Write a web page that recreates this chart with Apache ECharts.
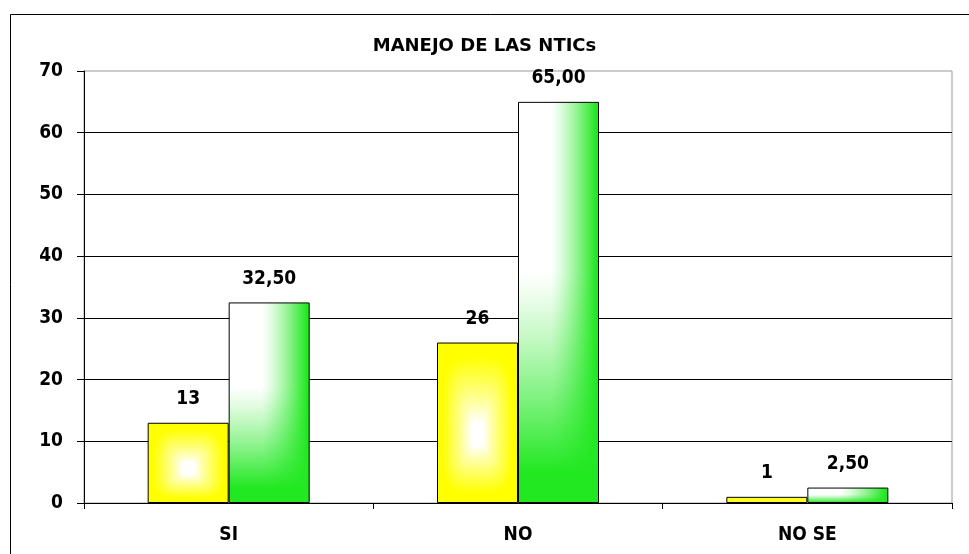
<!DOCTYPE html>
<html><head><meta charset="utf-8">
<script src="https://cdn.jsdelivr.net/npm/echarts@6/dist/echarts.min.js"></script>
<style>html,body{margin:0;padding:0;background:#fff}#c{width:969px;height:554px}</style>
</head><body><div id="c"></div>
<script>
const categories = ['SI', 'NO', 'NO SE'];
const serieA = [13, 26, 1];
const serieB = [32.5, 65.0, 2.5];
const yTicks = { min: 0, max: 70, interval: 10 };

const fmtComma = v => v.toFixed(2).replace('.', ',');
const font = "'DejaVu Sans Condensed', 'DejaVu Sans'";
const barW = 81;

const chart = echarts.init(document.getElementById('c'), null, { renderer: 'canvas' });
const labelBase = { show: true, position: 'top', distance: 14, color: '#000', fontFamily: font, fontWeight: 'bold', fontSize: 19 };
chart.setOption({
  animation: false,
  backgroundColor: '#fff',
  title: { text: 'MANEJO DE LAS NTICs', left: 'center', top: 32,
    textStyle: { fontFamily: 'DejaVu Sans', fontWeight: 'bold', fontSize: 18, color: '#000' } },
  graphic: [{ type: 'rect', shape: { x: 10.5, y: 14.5, width: 980, height: 600 },
    style: { fill: 'none', stroke: '#000', lineWidth: 1 }, z: 100 }],
  grid: { left: 84, right: 17, top: 71, bottom: 51, show: true, borderColor: '#999', borderWidth: 1 },
  xAxis: { type: 'category', data: categories,
    axisLine: { lineStyle: { color: '#000', width: 1 } },
    axisTick: { show: true, length: 6, lineStyle: { color: '#000' } },
    axisLabel: { margin: 23, color: '#000', fontFamily: font, fontWeight: 'bold', fontSize: 19 } },
  yAxis: { type: 'value', min: yTicks.min, max: yTicks.max, interval: yTicks.interval,
    axisLine: { show: true, lineStyle: { color: '#000', width: 1 } },
    axisTick: { show: true, length: 7, lineStyle: { color: '#000' } },
    axisLabel: { margin: 21, color: '#000', fontFamily: font, fontWeight: 'bold', fontSize: 19 },
    splitLine: { show: true, lineStyle: { color: ['#000','#000','#000','#000','#000','#000','#000','rgba(0,0,0,0)'], width: 1 } } },
  series: [
    { type: 'bar', barWidth: barW, barGap: '0%', data: serieA,
      itemStyle: { color: '#ffff00', borderColor: '#000', borderWidth: 1 },
      label: Object.assign({}, labelBase, { formatter: p => String(p.value) }) },
    { type: 'bar', barWidth: barW, data: serieB,
      itemStyle: { color: '#22e822', borderColor: '#000', borderWidth: 1 },
      label: Object.assign({}, labelBase, { formatter: p => fmtComma(p.value) }) }
  ]
});

// Fill textures sized to each bar, positioned with the library's own scale
const clamp01 = x => Math.max(0, Math.min(1, x));
function texture(w, h, fn) {
  const c = document.createElement('canvas');
  c.width = w; c.height = h;
  const ctx = c.getContext('2d');
  const img = ctx.createImageData(w, h);
  for (let y = 0; y < h; y++) for (let x = 0; x < w; x++) {
    const rgb = fn((x + 0.5) / w, (y + 0.5) / h, w, h);
    const k = (y * w + x) * 4;
    img.data[k] = rgb[0]; img.data[k + 1] = rgb[1]; img.data[k + 2] = rgb[2]; img.data[k + 3] = 255;
  }
  ctx.putImageData(img, 0, 0);
  return c;
}
const mix = (a, b, t) => a.map((v, i) => Math.round(v + (b[i] - v) * t));
const WHITE = [255, 255, 255], YEL = [255, 255, 0], GRN = [34, 232, 34];
const yellowFn = (u, v, w, h) => {
  if (h < 14) return mix(WHITE, YEL, 0.85);
  const cv = 0.58;
  const sx = Math.abs(u - 0.5) / 0.5;
  const sy = v < cv ? (cv - v) / cv : (v - cv) / (1 - cv);
  const s = Math.pow(Math.pow(sx, 4) + Math.pow(sy, 4), 0.25);
  const t = clamp01((s - 0.15) / 0.7);
  return mix(WHITE, YEL, Math.pow(t, 0.85));
};
const greenFn = (u, v) => {
  const f = Math.pow(clamp01((u - 0.4) / 0.55), 1.3);
  const g = Math.pow(clamp01((v - 0.42) / 0.5), 1.2);
  const t = 1 - (1 - f) * (1 - g);
  return mix(WHITE, GRN, t);
};
const base = chart.convertToPixel({ gridIndex: 0 }, [0, 0])[1];
const makeData = (arr, side, fn) => arr.map((v, i) => {
  const [cx, top] = chart.convertToPixel({ gridIndex: 0 }, [i, v]);
  const h = Math.max(2, Math.round(base - top) + 2);
  const left = side < 0 ? cx - barW : cx;
  const tex = texture(barW + 2, h, fn);
  return { value: v, itemStyle: { color: { image: tex, repeat: 'no-repeat', x: Math.round(left) - 1, y: Math.round(top) - 1 } } };
});
chart.setOption({ series: [{ data: makeData(serieA, -1, yellowFn) }, { data: makeData(serieB, 1, greenFn) }] });
</script></body></html>
